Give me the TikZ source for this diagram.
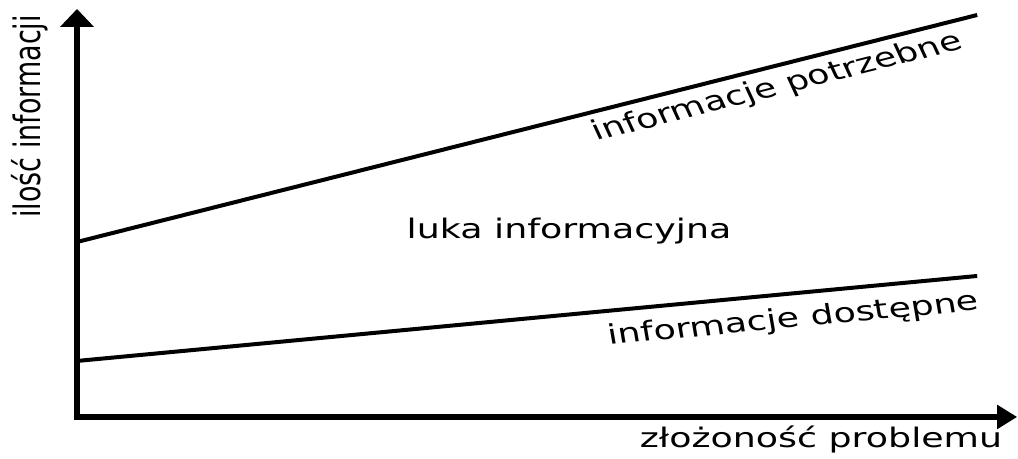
\documentclass[tikz,border=0pt]{standalone}
\usepackage{fontspec}
\setmainfont{DejaVu Sans}
\usetikzlibrary{arrows.meta}
\begin{document}
\begin{tikzpicture}[x=0.5556pt, y=-0.75pt, xscale=1.35,
  axis/.style={line width=4.5pt, line join=miter},
  dataline/.style={line width=3pt},
  lbl/.style={font=\fontsize{20.2}{24}\selectfont, transform shape, inner sep=0pt}]
\useasboundingbox (0,0) rectangle (1018,459);
\coordinate (ytip) at (77,9);
\coordinate (O) at (77,417);
\coordinate (xtip) at (1017,417);
\draw[axis, {Triangle[length=13.5pt,width=24.75pt]}-{Triangle[length=15pt,width=17.25pt]}] (ytip) -- (O) -- (xtip);
\coordinate (u0) at (77,242);
\coordinate (u1) at (977,15);
\coordinate (l0) at (77,361);
\coordinate (l1) at (977,276);
\draw[dataline] (u0) -- (u1) node[pos=0.768, anchor=north, rotate=18.8, lbl, inner sep=4.5pt] (needed) {informacje potrzebne};
\draw[dataline] (l0) -- (l1) node[pos=0.791, anchor=north, rotate=7.27, lbl, inner sep=8.5pt] (avail) {informacje dostępne};
\node[lbl, anchor=base] (gap) at (569,239) {luka informacyjna};
\node[lbl, anchor=base] (xlab) at (821,448) {złożoność problemu};
\node[lbl, anchor=base, rotate=90] (ylab) at (41,116.5) {ilość informacji};
\end{tikzpicture}
\end{document}
